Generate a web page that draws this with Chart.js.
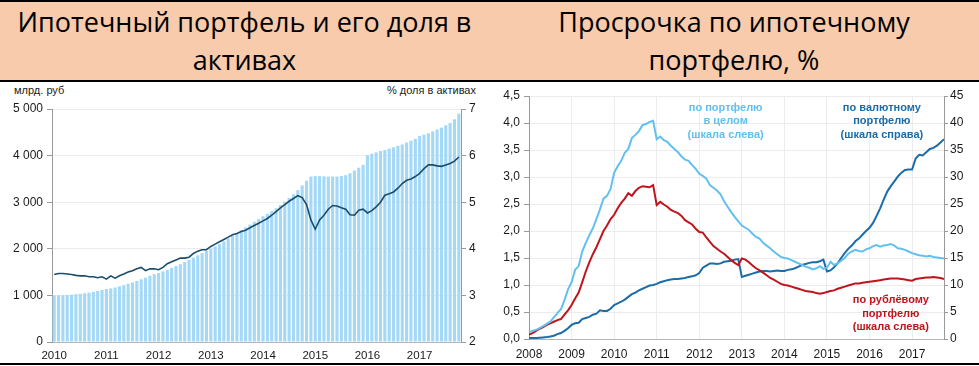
<!DOCTYPE html>
<html lang="ru">
<head>
<meta charset="utf-8">
<script src="https://cdn.jsdelivr.net/npm/chart.js@4.4.1/dist/chart.umd.min.js"></script>
<style>
  html, body { margin: 0; padding: 0; background: #fff; }
  #page { position: relative; width: 979px; height: 366px; overflow: hidden; font-family: "Liberation Sans", Arial, sans-serif; }
  .band { position: absolute; left: 0; top: 0; width: 979px; height: 78px; background: #f8cbad; border-top: 2px solid #000; border-bottom: 2px solid #000; }
  .title { position: absolute; top: 3px; font-family: "Open Sans", sans-serif; font-size: 27px; line-height: 38px; text-align: center; color: #000; }
  .unit { position: absolute; top: 83px; font-size: 11px; line-height: 14px; color: #222; }
  .bottom { position: absolute; left: 0; top: 363px; width: 979px; height: 2px; background: #000; }
  canvas { position: absolute; top: 82px; }
</style>
</head>
<body>
<div id="page">
  <div class="band"></div>
  <div class="title" style="left:0; width:489px;">Ипотечный портфель и его доля в<br>активах</div>
  <div class="title" style="left:489px; width:490px;">Просрочка по ипотечному<br>портфелю, %</div>
  <div class="unit" style="left:14px;">млрд. руб</div>
  <div class="unit" style="right:503px;">% доля в активах</div>
  <canvas id="portfolio" width="489" height="280" style="left:0;"></canvas>
  <canvas id="overdue" width="490" height="280" style="left:489px;"></canvas>
  <div class="bottom"></div>
</div>
<script>
// --- ипотечный портфель, помесячно 2010-01 .. 2017-10
var portfolioStart = 2010;
var portfolio = [
  1000, 1000, 1005, 1010, 1015, 1025, 1035, 1045, 1060, 1075, 1095, 1115,
  1137, 1150, 1170, 1195, 1220, 1250, 1280, 1310, 1345, 1380, 1420, 1455,
  1480, 1515, 1550, 1590, 1630, 1670, 1715, 1760, 1810, 1860, 1910, 1955,
  2000, 2050, 2100, 2160, 2220, 2280, 2340, 2400, 2460, 2520, 2580, 2640,
  2700, 2750, 2810, 2870, 2940, 3010, 3090, 3170, 3260, 3360, 3460, 3550,
  3560, 3560, 3555, 3550, 3550, 3550, 3560, 3580, 3620, 3680, 3740, 3800,
  4010, 4040, 4070, 4100, 4120, 4150, 4180, 4210, 4240, 4280, 4320, 4360,
  4420, 4450, 4480, 4520, 4560, 4600, 4650, 4700, 4780, 4900
];
// доля в активах, %
var share = [
  3.45, 3.47, 3.47, 3.46, 3.45, 3.43, 3.42, 3.42, 3.40, 3.40, 3.38, 3.40,
  3.35, 3.42, 3.37, 3.42, 3.46, 3.50, 3.53, 3.57, 3.60, 3.53, 3.57, 3.57,
  3.55, 3.60, 3.68, 3.72, 3.76, 3.80, 3.80, 3.82, 3.90, 3.95, 3.98, 3.98,
  4.05, 4.10, 4.15, 4.20, 4.25, 4.30, 4.33, 4.37, 4.40, 4.45, 4.50, 4.55,
  4.60, 4.65, 4.72, 4.80, 4.88, 4.95, 5.02, 5.08, 5.14, 5.10, 4.95, 4.62,
  4.42, 4.62, 4.72, 4.85, 4.93, 4.92, 4.88, 4.85, 4.73, 4.72, 4.83, 4.85,
  4.77, 4.82, 4.90, 5.00, 5.15, 5.18, 5.22, 5.30, 5.40, 5.47, 5.50, 5.55,
  5.62, 5.72, 5.80, 5.80, 5.78, 5.77, 5.80, 5.83, 5.88, 5.97
];

// --- просрочка, помесячно 2008-01 .. 2017-10
var overdueStart = 2008;
var overdueTotal = [
  0.13, 0.15, 0.17, 0.20, 0.24, 0.28, 0.32, 0.40, 0.48, 0.55, 0.72, 0.92,
  1.05, 1.28, 1.35, 1.62, 1.78, 1.92, 2.05, 2.22, 2.40, 2.60, 2.65, 2.78,
  3.08, 3.20, 3.30, 3.45, 3.52, 3.72, 3.78, 3.85, 3.96, 3.98, 4.02, 4.04,
  3.70, 3.75, 3.68, 3.65, 3.58, 3.52, 3.46, 3.38, 3.32, 3.30, 3.22, 3.15,
  3.06, 3.02, 2.97, 2.85, 2.80, 2.75, 2.68, 2.55, 2.45, 2.35, 2.26, 2.18,
  2.10, 2.06, 2.02, 1.95, 1.89, 1.86, 1.78, 1.73, 1.68, 1.62, 1.57, 1.52,
  1.50, 1.49, 1.46, 1.43, 1.40, 1.37, 1.34, 1.32, 1.29, 1.31, 1.35, 1.30,
  1.32, 1.43, 1.37, 1.40, 1.45, 1.50, 1.58, 1.62, 1.65, 1.63, 1.62, 1.66,
  1.68, 1.72, 1.74, 1.71, 1.73, 1.74, 1.76, 1.73, 1.68, 1.67, 1.65, 1.62,
  1.59, 1.57, 1.55, 1.54, 1.53, 1.54, 1.52, 1.51, 1.50, 1.49
];
var overdueRub = [
  0.08, 0.11, 0.15, 0.19, 0.22, 0.26, 0.29, 0.32, 0.35, 0.37, 0.45, 0.53,
  0.63, 0.75, 0.86, 1.05, 1.25, 1.42, 1.57, 1.70, 1.85, 2.00, 2.10, 2.22,
  2.30, 2.42, 2.52, 2.60, 2.70, 2.65, 2.74, 2.80, 2.83, 2.82, 2.81, 2.85,
  2.48, 2.54, 2.49, 2.45, 2.39, 2.36, 2.33, 2.28, 2.20, 2.16, 2.12, 2.04,
  1.98, 1.97, 1.88, 1.80, 1.72, 1.67, 1.62, 1.58, 1.52, 1.46, 1.41, 1.37,
  1.49, 1.47, 1.42, 1.36, 1.31, 1.27, 1.23, 1.18, 1.13, 1.10, 1.06, 1.02,
  1.00, 0.99, 0.97, 0.95, 0.93, 0.91, 0.89, 0.88, 0.87, 0.85, 0.84, 0.85,
  0.87, 0.89, 0.90, 0.93, 0.95, 0.97, 0.99, 1.01, 1.03, 1.03, 1.04, 1.05,
  1.06, 1.07, 1.08, 1.09, 1.10, 1.11, 1.12, 1.12, 1.12, 1.11, 1.10, 1.09,
  1.08, 1.11, 1.12, 1.13, 1.14, 1.14, 1.15, 1.14, 1.13, 1.11
];
// валютный портфель, шкала справа
var overdueFx = [
  0.2, 0.2, 0.2, 0.25, 0.3, 0.35, 0.45, 0.6, 0.9, 1.1, 1.5, 2.0,
  2.6, 2.9, 3.0, 3.7, 3.9, 4.1, 4.5, 4.7, 5.3, 5.2, 5.2, 5.6,
  6.3, 6.6, 6.9, 7.3, 7.8, 8.3, 8.6, 9.0, 9.3, 9.6, 9.9, 10.0,
  10.2, 10.5, 10.7, 10.9, 11.0, 11.1, 11.1, 11.2, 11.3, 11.5, 11.6, 11.8,
  12.2, 13.2, 13.6, 14.0, 14.0, 13.9, 14.0, 14.3, 14.4, 14.5, 14.7, 14.8,
  11.5, 11.7, 11.9, 12.1, 12.3, 12.5, 12.6, 12.6, 12.5, 12.6, 12.7, 12.6,
  12.6, 12.8, 12.9, 13.1, 13.4, 13.7, 13.9, 14.1, 14.2, 14.2, 14.4, 14.7,
  12.5, 12.7, 13.3, 14.0, 15.0, 15.9, 16.7, 17.3, 18.1, 18.6, 19.3, 20.0,
  20.6, 21.5, 22.8, 24.2, 25.8, 27.3, 28.3, 29.2, 30.1, 30.8, 31.3, 31.4,
  31.4, 33.4, 34.1, 34.0, 34.6, 35.2, 35.4, 35.8, 36.4, 37.0
];

// подписи к линиям (координаты в единицах осей)
var noteText = [
  ['по портфелю', 'в целом', '(шкала слева)'],
  ['по валютному', 'портфелю', '(шкала справа)'],
  ['по рублёвому', 'портфелю', '(шкала слева)']
];
var noteX = [2012.62, 2016.29, 2016.5];
var noteY = [4.28, 4.28, 0.72];

var colTotal = '#62c0ee';
var colRub = '#c0141c';
var colFx = '#1b6ca8';
var noteColors = [colTotal, colFx, colRub];

Chart.defaults.font.family = '"Liberation Sans", Arial, sans-serif';
Chart.defaults.color = '#1a1a1a';
Chart.defaults.animation = false;

function fixWidth(w) { return function (scale) { scale.width = w; }; }
function fixHeight(h) { return function (scale) { scale.height = h; }; }
function thousands(v) {
    return v >= 1000 ? Math.floor(v / 1000) + ' ' + String(v % 1000).padStart(3, '0') : String(v);
}

// --- левый график
var monthLabels = portfolio.map(function (v, i) {
    var y = portfolioStart + Math.floor(i / 12);
    var m = (i % 12) + 1;
    return y + '-' + (m < 10 ? '0' + m : m);
});

new Chart(document.getElementById('portfolio').getContext('2d'), {
    data: {
        labels: monthLabels,
        datasets: [{
            type: 'line',
            data: share,
            yAxisID: 'y1',
            borderColor: '#1b4d6b',
            borderWidth: 1.6,
            pointRadius: 0,
            tension: 0
        }, {
            type: 'bar',
            data: portfolio,
            yAxisID: 'y',
            backgroundColor: '#a3d8f7',
            barPercentage: 0.72,
            categoryPercentage: 1
        }]
    },
    options: {
        responsive: false,
        layout: { padding: { top: 27, left: 0, right: 0, bottom: 0 } },
        plugins: { legend: { display: false }, tooltip: { enabled: false } },
        scales: {
            x: {
                offset: true,
                afterFit: fixHeight(20),
                grid: { drawOnChartArea: false, drawTicks: false },
                border: { color: '#b5b5b5' },
                ticks: {
                    autoSkip: false, maxRotation: 0, padding: 7,
                    font: { size: 11.5 },
                    callback: function (v, i) {
                        var l = monthLabels[i];
                        return l.slice(5) === '01' ? l.slice(0, 4) : '';
                    }
                }
            },
            y: {
                position: 'left',
                min: 0, max: 5000,
                afterFit: fixWidth(52),
                grid: { color: '#ececec', tickColor: '#9a9a9a', tickLength: 5 },
                border: { color: '#9a9a9a' },
                ticks: { stepSize: 1000, padding: 4, font: { size: 12 }, callback: thousands }
            },
            y1: {
                position: 'right',
                min: 2, max: 7,
                afterFit: fixWidth(28),
                grid: { drawOnChartArea: false, tickColor: '#9a9a9a', tickLength: 5 },
                border: { color: '#9a9a9a' },
                ticks: { stepSize: 1, padding: 3, font: { size: 12 } }
            }
        }
    }
});

// --- правый график
function points(values) {
    return values.map(function (v, i) { return { x: overdueStart + i / 12, y: v }; });
}

var notesPlugin = {
    id: 'notes',
    afterDatasetsDraw: function (chart) {
        var ctx = chart.ctx;
        ctx.save();
        ctx.font = 'bold 11px "Liberation Sans", Arial, sans-serif';
        ctx.textAlign = 'center';
        ctx.textBaseline = 'middle';
        noteText.forEach(function (lines, k) {
            var px = chart.scales.x.getPixelForValue(noteX[k]);
            var py = chart.scales.y.getPixelForValue(noteY[k]);
            ctx.fillStyle = noteColors[k];
            lines.forEach(function (t, j) { ctx.fillText(t, px, py + j * 13.5); });
        });
        ctx.restore();
    }
};

new Chart(document.getElementById('overdue').getContext('2d'), {
    type: 'line',
    data: {
        datasets: [{
            data: points(overdueTotal),
            yAxisID: 'y',
            borderColor: colTotal
        }, {
            data: points(overdueRub),
            yAxisID: 'y',
            borderColor: colRub
        }, {
            data: points(overdueFx),
            yAxisID: 'y1',
            borderColor: colFx
        }]
    },
    options: {
        responsive: false,
        elements: { line: { borderWidth: 2, tension: 0 }, point: { radius: 0 } },
        layout: { padding: { top: 14, left: 0, right: 0, bottom: 0 } },
        plugins: { legend: { display: false }, tooltip: { enabled: false } },
        scales: {
            x: {
                type: 'linear',
                min: 2008, max: 2017.75,
                afterFit: fixHeight(23),
                grid: { color: '#ececec', drawTicks: false },
                border: { color: '#b5b5b5' },
                ticks: {
                    stepSize: 1, includeBounds: false, padding: 8, maxRotation: 0, autoSkip: false, font: { size: 12 },
                    callback: function (v) { return Number.isInteger(v) ? String(v) : ''; }
                }
            },
            y: {
                position: 'left',
                min: 0, max: 4.5,
                afterFit: fixWidth(40),
                grid: { color: '#ececec', tickColor: '#9a9a9a', tickLength: 5 },
                border: { color: '#9a9a9a' },
                ticks: {
                    stepSize: 0.5, padding: 4, font: { size: 12 },
                    callback: function (v) { return v.toFixed(1).replace('.', ','); }
                }
            },
            y1: {
                position: 'right',
                min: 0, max: 45,
                afterFit: fixWidth(35),
                grid: { drawOnChartArea: false, tickColor: '#9a9a9a', tickLength: 4 },
                border: { color: '#9a9a9a' },
                ticks: { stepSize: 5, padding: 2, font: { size: 12 } }
            }
        }
    },
    plugins: [notesPlugin]
});
</script>
</body>
</html>
